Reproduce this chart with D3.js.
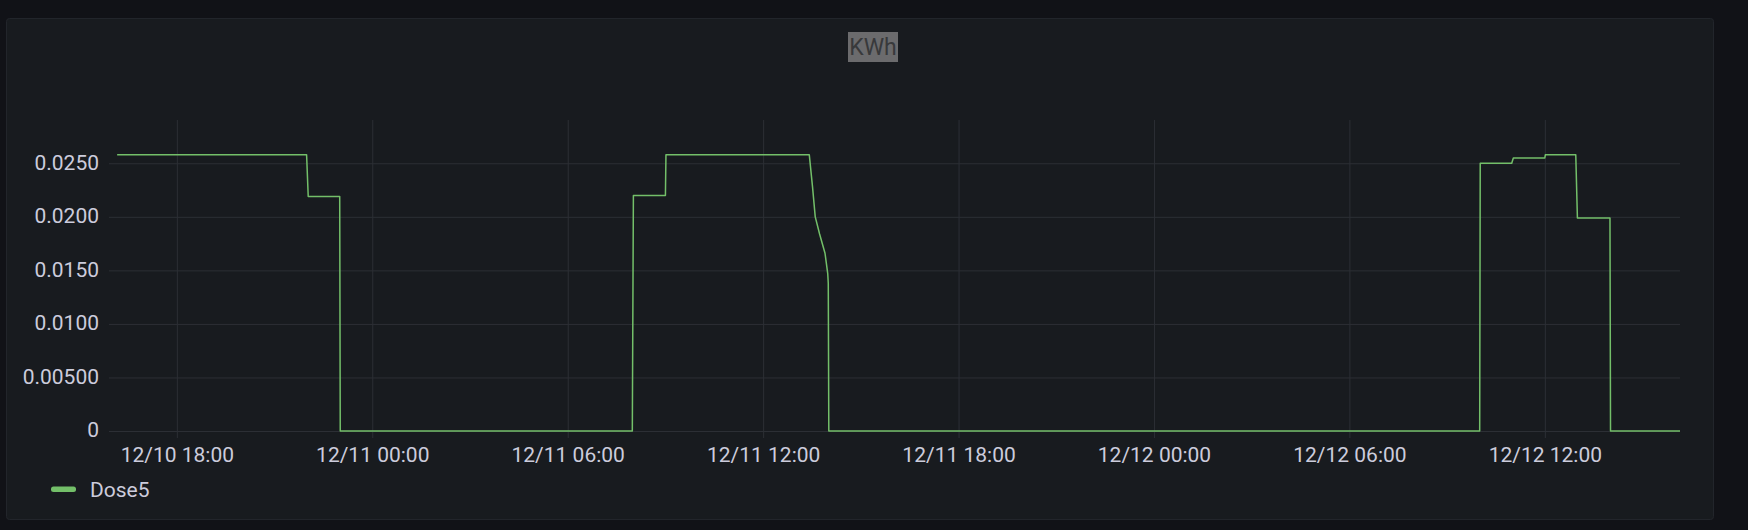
<!DOCTYPE html>
<html><head><meta charset="utf-8">
<script src="https://cdn.jsdelivr.net/npm/d3@7"></script>
<style>html,body{margin:0;padding:0;background:#111217;}svg{display:block}</style>
</head><body>
<svg id="c" width="1748" height="530"></svg>
<script>
const title = "KWh";
const seriesName = "Dose5";
const times = [
  "2023-12-10T16:10","2023-12-10T21:59","2023-12-10T22:02","2023-12-10T23:00","2023-12-10T23:01",
  "2023-12-11T07:59","2023-12-11T08:01","2023-12-11T09:00","2023-12-11T09:01","2023-12-11T13:25",
  "2023-12-11T13:31","2023-12-11T13:36","2023-12-11T13:44","2023-12-11T13:54","2023-12-11T13:59",
  "2023-12-11T14:00","2023-12-11T14:01",
  "2023-12-12T10:00","2023-12-12T10:01","2023-12-12T10:59","2023-12-12T11:02","2023-12-12T12:00",
  "2023-12-12T12:01","2023-12-12T12:57","2023-12-12T13:00","2023-12-12T14:00","2023-12-12T14:01",
  "2023-12-12T16:09"
];
const values = [
  0.0258,0.0258,0.0219,0.0219,0,
  0,0.0220,0.0220,0.0258,0.0258,
  0.0228,0.0200,0.0184,0.0166,0.0147,
  0.0138,0,
  0,0.0250,0.0250,0.0255,0.0255,
  0.0258,0.0258,0.0199,0.0199,0,
  0
];
const yTicks = [0, 0.005, 0.01, 0.015, 0.02, 0.025];
const yTickLabels = ["0","0.00500","0.0100","0.0150","0.0200","0.0250"];
const xTicks = ["2023-12-10T18:00","2023-12-11T00:00","2023-12-11T06:00","2023-12-11T12:00",
                "2023-12-11T18:00","2023-12-12T00:00","2023-12-12T06:00","2023-12-12T12:00"];
const xTickLabels = ["12/10 18:00","12/11 00:00","12/11 06:00","12/11 12:00",
                     "12/11 18:00","12/12 00:00","12/12 06:00","12/12 12:00"];
const xDomainStr = ["2023-12-10T15:55","2023-12-12T16:09"];
const yDomain = [0, 0.02904];

const parse = d3.timeParse("%Y-%m-%dT%H:%M");
const data = times.map((t,i)=>({t:parse(t), v:values[i]}));
const FONT = "Roboto, 'Noto Sans', sans-serif";
const TXT = "#ccccdc";
const GRID = "#2c2f35";
const GREEN = "#73BF69";

const L = 109, R = 1680, T = 120, B = 431;
const svg = d3.select("#c");

svg.append("rect").attr("x",6.5).attr("y",18.5).attr("width",1707).attr("height",501)
  .attr("rx",3).attr("fill","#181b1f").attr("stroke","#22252b");

const x = d3.scaleTime().domain(xDomainStr.map(parse)).range([L,R]);
const y = d3.scaleLinear().domain(yDomain).range([B,T]);

// y axis + horizontal grid
const gy = svg.append("g").attr("transform",`translate(${L},0)`)
  .call(d3.axisLeft(y).tickValues(yTicks).tickFormat((d,i)=>yTickLabels[i])
        .tickSize(-(R-L)).tickPadding(10));
gy.select(".domain").remove();
gy.selectAll("line").attr("stroke",GRID).attr("stroke-width",1);
gy.selectAll("text").attr("fill",TXT).style("font-family",FONT).style("font-size","21px").attr("dy","0.28em");

// x axis + vertical grid
const xb = 438;
const gx = svg.append("g").attr("transform",`translate(0,${xb})`)
  .call(d3.axisBottom(x).tickValues(xTicks.map(parse)).tickFormat((d,i)=>xTickLabels[i])
        .tickSize(-(xb-T)).tickPadding(9));
gx.select(".domain").remove();
gx.selectAll("line").attr("stroke",GRID).attr("stroke-width",1);
gx.selectAll("text").attr("fill",TXT).style("font-family",FONT).style("font-size","21px");

// series line
svg.append("path").datum(data)
  .attr("d", d3.line().x(d=>x(d.t)).y(d=>y(d.v)))
  .attr("fill","none").attr("stroke",GREEN).attr("stroke-width",1.5)
  .attr("stroke-linejoin","round");

// title
svg.append("rect").attr("x",848).attr("y",32).attr("width",50).attr("height",30).attr("fill","#6b6b6d");
svg.append("text").attr("x",873).attr("y",47).attr("text-anchor","middle")
  .attr("dominant-baseline","central").attr("fill","#38393b")
  .style("font-family",FONT).style("font-size","23px").text(title);

// legend
svg.append("rect").attr("x",51).attr("y",486.5).attr("width",25).attr("height",5.5).attr("rx",2.5).attr("fill",GREEN);
svg.append("text").attr("x",90).attr("y",489.5).attr("dominant-baseline","central")
  .attr("fill",TXT).style("font-family",FONT).style("font-size","21px").text(seriesName);
</script>
</body></html>
